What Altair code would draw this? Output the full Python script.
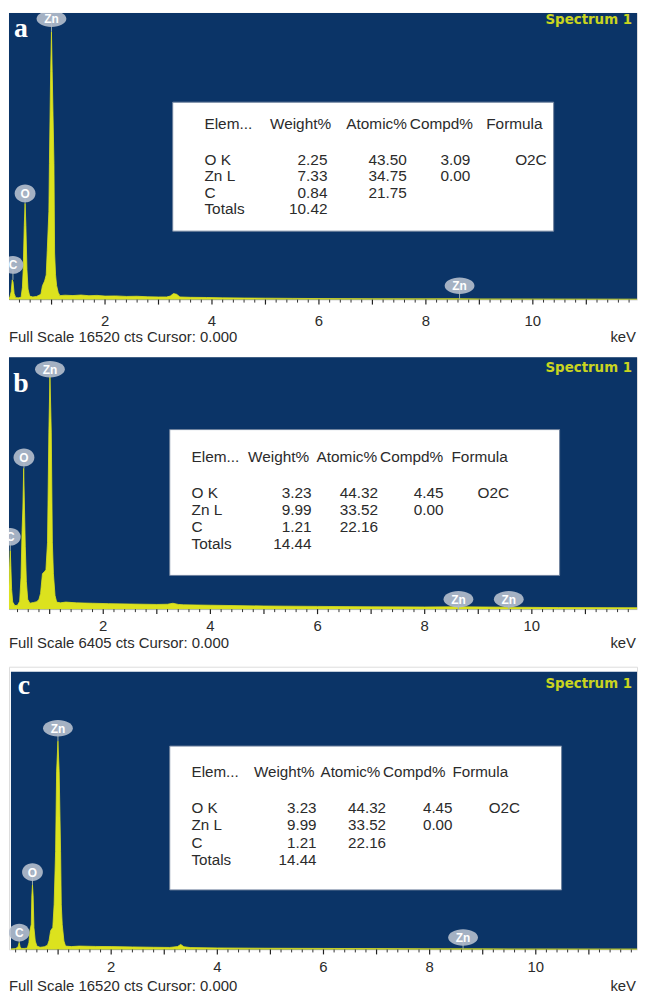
import altair as alt
import pandas as pd

BLUE = "#0b3467"
YELLOW = "#dce21e"
STEM = "#9fb0a8"
BADGE = "#b2bccb"
SPEC_TITLE = "#c9d41f"
TEXT = "#2b2b2b"
SANS = "Liberation Sans"

# ---------------- data ----------------
a_kev = [0.20, 0.22, 0.245, 0.265, 0.28, 0.30, 0.33, 0.38, 0.43, 0.455, 0.47, 0.49, 0.505, 0.52, 0.54, 0.56, 0.59,
         0.65, 0.72, 0.80, 0.83, 0.87, 0.90, 0.92, 0.95, 0.96, 0.983, 0.998, 1.012, 1.045, 1.057, 1.075, 1.095, 1.125,
         1.156, 1.25, 1.4, 1.55, 1.7, 1.85, 2.0, 2.2, 2.4, 2.6, 2.8, 3.0, 3.15, 3.22, 3.28, 3.34, 3.4, 3.6, 3.9, 4.2,
         4.6, 5.0, 5.5, 6.0, 7.0, 8.0, 8.6, 9.0, 10.0, 11.0, 12.0]
a_cts = [80, 150, 450, 1120, 1000, 350, 110, 100, 130, 700, 1700, 4200, 5450, 4200, 1700, 600, 200,
         150, 180, 300, 790, 1050, 1400, 2800, 5000, 7700, 12900, 15170, 12900, 7700, 2640, 1400, 790, 400,
         225, 250, 230, 260, 220, 240, 200, 210, 180, 190, 160, 150, 150, 200, 340, 300, 150, 130, 120, 100,
         90, 80, 70, 60, 50, 45, 50, 40, 35, 30, 25]

b_kev = [0.241, 0.255, 0.265, 0.275, 0.29, 0.31, 0.35, 0.40, 0.44, 0.465, 0.485, 0.50, 0.515, 0.53, 0.545, 0.565,
         0.59, 0.63, 0.70, 0.76, 0.80, 0.83, 0.865, 0.90, 0.93, 0.96, 0.985, 1.005, 1.03, 1.05, 1.07, 1.10, 1.13,
         1.2, 1.3, 1.5, 1.8, 2.1, 2.5, 3.0, 3.2, 3.3, 3.4, 3.5, 4.0, 5.0, 6.0, 7.0, 8.0, 8.6, 9.6, 10.5, 12.0]
b_cts = [600, 1200, 1490, 1100, 500, 180, 90, 100, 200, 800, 2000, 2570, 3580, 2570, 1600, 700,
         250, 150, 170, 190, 250, 400, 900, 950, 1000, 1700, 4500, 5950, 4500, 1700, 900, 350, 180,
         160, 180, 160, 150, 140, 130, 120, 125, 150, 120, 110, 100, 80, 70, 60, 55, 60, 50, 40, 35]

c_kev = [0.112, 0.20, 0.245, 0.267, 0.285, 0.31, 0.36, 0.42, 0.45, 0.47, 0.495, 0.505, 0.517, 0.53, 0.545, 0.57,
         0.60, 0.66, 0.74, 0.80, 0.83, 0.86, 0.90, 0.925, 0.953, 0.972, 0.997, 1.02, 1.047, 1.06, 1.078, 1.11,
         1.14, 1.25, 1.4, 1.7, 2.0, 2.4, 2.8, 3.1, 3.25, 3.31, 3.37, 3.5, 4.0, 5.0, 6.0, 7.0, 8.0, 9.0, 10.0, 12.0]
c_cts = [30, 50, 150, 413, 150, 60, 60, 80, 400, 1121, 1500, 3186, 3835, 3186, 1300, 500,
         200, 130, 160, 250, 531, 1121, 1300, 2655, 5841, 10561, 12390, 10561, 5841, 2655, 1475, 500,
         200, 170, 200, 180, 170, 150, 130, 120, 170, 300, 160, 110, 90, 70, 60, 50, 40, 35, 30, 25]

# element markers: element, energy, label centre (cts), peak top (cts)
a_mark_el = ["C", "O", "Zn", "Zn"]
a_mark_kev = [0.278, 0.505, 0.998, 8.63]
a_mark_lab = [1967, 6012, 15902, 787]
a_mark_peak = [1120, 5450, 15170, 0]

b_mark_el = ["C", "O", "Zn", "Zn", "Zn"]
b_mark_kev = [0.265, 0.52, 1.005, 8.63, 9.57]
b_mark_lab = [1840, 3856, 6098, 252, 252]
b_mark_peak = [1490, 3580, 5950, 0, 0]

c_mark_el = ["C", "O", "Zn", "Zn"]
c_mark_kev = [0.267, 0.517, 0.997, 8.63]
c_mark_lab = [1003, 4602, 13157, 708]
c_mark_peak = [413, 3835, 12390, 0]

table_header = ["Elem...", "Weight%", "Atomic%", "Compd%", "Formula"]
table_elements = ["O K", "Zn L", "C", "Totals"]
a_weight = ["2.25", "7.33", "0.84", "10.42"]
a_atomic = ["43.50", "34.75", "21.75"]
a_compd = ["3.09", "0.00"]
a_formula = ["O2C"]
bc_weight = ["3.23", "9.99", "1.21", "14.44"]
bc_atomic = ["44.32", "33.52", "22.16"]
bc_compd = ["4.45", "0.00"]
bc_formula = ["O2C"]

full_scale = [16520, 6405, 16520]
panel_letters = ["a", "b", "c"]
axis_labels = [2, 4, 6, 8, 10]
minor_ticks = [round(0.2 * i, 1) for i in range(1, 60) if i % 5 != 0]
major_ticks = list(range(1, 12))

ZN_SHAPE = "M -1 0 A 1 0.55 0 1 1 1 0 A 1 0.55 0 1 1 -1 0 Z"
ONE_SHAPE = "M -1 0 A 1 0.85 0 1 1 1 0 A 1 0.85 0 1 1 -1 0 Z"

W = 633
ONE = pd.DataFrame({"k": [0]})

layout = [
    dict(H=289, xdom=[0.2041, 11.948], ytop=16239, bgx=0.2041, lab_y=315.4, foot=331.5,
         box=(165, 90, 549, 220), head_y=117.4, head_x=[197, 263, 340, 404, 481],
         body_y=153.4, lh=16.5, val_x=[321, 401, 465, 542], fs=15.5, letter=(12, 24), spec=11),
    dict(H=254, xdom=[0.2407, 11.963], ytop=6405, bgx=0.2407, lab_y=276.4, foot=293.4,
         box=(162, 73, 555, 220), head_y=105.4, head_x=[184, 241, 310, 374, 446],
         body_y=142.4, lh=17, val_x=[305, 372, 438, 504], fs=15.5, letter=(12, 35), spec=15),
    dict(H=285, xdom=[0.0748, 11.907], ytop=16815, bgx=0.112, lab_y=307.9, foot=326.5,
         box=(162, 80, 557, 225), head_y=111.4, head_x=[184, 247, 314, 377, 447],
         body_y=147.4, lh=17.6, val_x=[310, 380, 447, 515], fs=15.3, letter=(15, 28), spec=21),
]

spectra = [(a_kev, a_cts), (b_kev, b_cts), (c_kev, c_cts)]
markers = [(a_mark_el, a_mark_kev, a_mark_lab, a_mark_peak),
           (b_mark_el, b_mark_kev, b_mark_lab, b_mark_peak),
           (c_mark_el, c_mark_kev, c_mark_lab, c_mark_peak)]
tables = [(a_weight, a_atomic, a_compd, a_formula),
          (bc_weight, bc_atomic, bc_compd, bc_formula),
          (bc_weight, bc_atomic, bc_compd, bc_formula)]


def txt(x, y, text, align="left", size=15.5, color=TEXT, font=SANS, weight="normal", lh=None):
    mk = dict(align=align, baseline="alphabetic", fontSize=size, color=color, font=font, fontWeight=weight)
    if lh:
        mk.update(lineBreak="\n", lineHeight=lh)
    return alt.Chart(ONE).mark_text(**mk).encode(x=alt.value(x), y=alt.value(y), text=alt.value(text))


def panel(i):
    L = layout[i]
    H = L["H"]
    xs = alt.Scale(domain=L["xdom"], nice=False, zero=False)
    ys = alt.Scale(domain=[0, L["ytop"]], nice=False, zero=True)
    lo, hi = L["xdom"]

    bg = alt.Chart(pd.DataFrame({"x": [L["bgx"]], "x2": [hi], "y": [0],
                                 "y2": [min(full_scale[i], L["ytop"])]})).mark_rect(fill=BLUE).encode(
        x=alt.X("x:Q", scale=xs, axis=None), x2="x2:Q",
        y=alt.Y("y:Q", scale=ys, axis=None), y2="y2:Q")

    kev, cts = spectra[i]
    spec = alt.Chart(pd.DataFrame({"kev": kev, "cts": cts})).mark_area(
        fill=YELLOW, stroke=YELLOW, strokeWidth=0.8, clip=True, interpolate="linear").encode(
        x=alt.X("kev:Q", scale=xs, axis=None),
        y=alt.Y("cts:Q", scale=ys, axis=None))

    el, mk, lab, peak = markers[i]
    mdf = pd.DataFrame({"el": el, "kev": mk, "lab": lab, "peak": peak})
    stems = alt.Chart(mdf).mark_rule(color=STEM, strokeWidth=1, clip=True).encode(
        x=alt.X("kev:Q", scale=xs, axis=None), y=alt.Y("lab:Q", scale=ys, axis=None), y2="peak:Q")
    zn_badge = alt.Chart(mdf).transform_filter("datum.el == 'Zn'").mark_point(
        shape=ZN_SHAPE, size=900, filled=True, color=BADGE, opacity=0.92, clip=True).encode(
        x=alt.X("kev:Q", scale=xs, axis=None), y=alt.Y("lab:Q", scale=ys, axis=None))
    one_badge = alt.Chart(mdf).transform_filter("datum.el != 'Zn'").mark_point(
        shape=ONE_SHAPE, size=441, filled=True, color=BADGE, opacity=0.92, clip=True).encode(
        x=alt.X("kev:Q", scale=xs, axis=None), y=alt.Y("lab:Q", scale=ys, axis=None))
    badge_txt = alt.Chart(mdf).mark_text(color="white", fontSize=12, fontWeight="bold", font=SANS,
                                         baseline="middle", dy=0.5, clip=True).encode(
        x=alt.X("kev:Q", scale=xs, axis=None), y=alt.Y("lab:Q", scale=ys, axis=None), text="el:N")

    minors = [t for t in minor_ticks if lo < t < hi]
    majors = [t for t in major_ticks if lo < t < hi]
    tmin = alt.Chart(pd.DataFrame({"t": minors})).mark_rule(color="#333333", strokeWidth=1).encode(
        x=alt.X("t:Q", scale=xs, axis=None), y=alt.value(H), y2=alt.value(H + 3))
    tmaj = alt.Chart(pd.DataFrame({"t": majors})).mark_rule(color="#222222", strokeWidth=1.2).encode(
        x=alt.X("t:Q", scale=xs, axis=None), y=alt.value(H), y2=alt.value(H + 5))
    tlab = alt.Chart(pd.DataFrame({"v": [str(v) for v in axis_labels],
                                   "kev": axis_labels})).mark_text(
        baseline="alphabetic", align="center", fontSize=15, color=TEXT, font=SANS).encode(
        x=alt.X("kev:Q", scale=xs, axis=None), y=alt.value(L["lab_y"]), text="v:N")

    bx0, by0, bx1, by1 = L["box"]
    box = alt.Chart(ONE).mark_rect(fill="white", stroke="#6d7f9c", strokeWidth=1).encode(
        x=alt.value(bx0), x2=alt.value(bx1), y=alt.value(by0), y2=alt.value(by1))

    fs = L["fs"]
    layers = [bg, spec, stems, zn_badge, one_badge, badge_txt, tmin, tmaj, tlab, box]
    for hx, h in zip(L["head_x"], table_header):
        layers.append(txt(hx, L["head_y"], h, size=fs))
    weight, atomic, compd, formula = tables[i]
    layers.append(txt(L["head_x"][0], L["body_y"], "\n".join(table_elements), size=fs, lh=L["lh"]))
    for vx, col in zip(L["val_x"], [weight, atomic, compd, formula]):
        layers.append(txt(vx, L["body_y"], "\n".join(col), align="right", size=fs, lh=L["lh"]))

    lx, ly = L["letter"]
    layers.append(txt(lx, ly, panel_letters[i], align="center", size=28, color="white",
                      font="Liberation Serif", weight="bold"))
    layers.append(txt(W - 5, L["spec"], "Spectrum 1", align="right", size=13.5, color=SPEC_TITLE,
                      font="DejaVu Sans", weight="bold"))
    layers.append(txt(0, L["foot"], "Full Scale {} cts Cursor: 0.000".format(full_scale[i]), size=15))
    layers.append(txt(W - 1, L["foot"], "keV", align="right", size=15))

    return alt.layer(*layers).properties(width=W, height=H)


chart = alt.vconcat(panel(0), panel(1), panel(2), spacing=58, bounds="flush").properties(
    padding=0, background="white").configure_view(stroke=None).configure(font=SANS)

chart.save("out.html", embed_options={"renderer": "svg", "actions": False})
